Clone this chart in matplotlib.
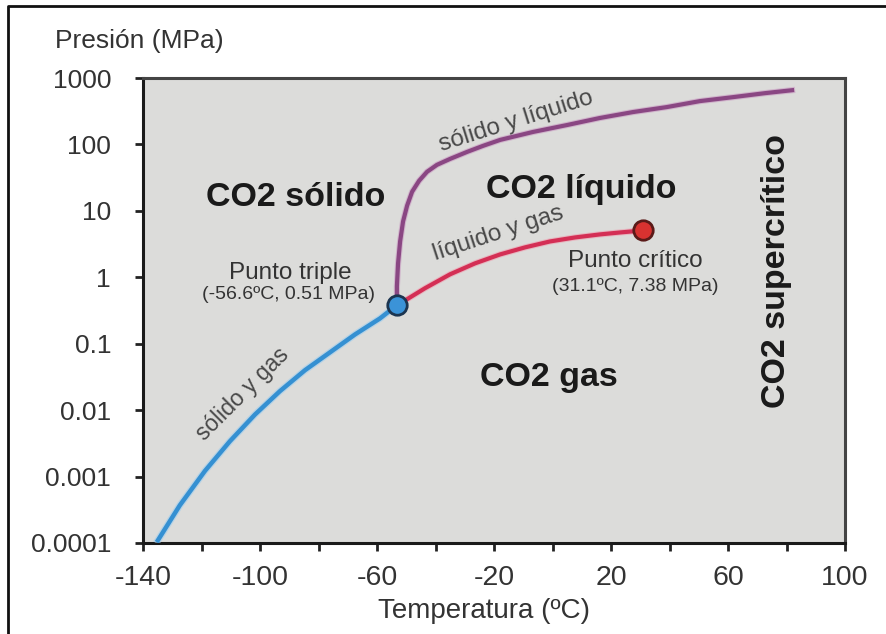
import numpy as np
import matplotlib.pyplot as plt
from matplotlib.lines import Line2D
import matplotlib.patheffects as pe

plt.rcParams['font.family'] = ['Liberation Sans', 'DejaVu Sans']
plt.rcParams['axes.unicode_minus'] = False

# curve points (T in ºC, P in MPa)
sub_T = [-134.9, -127.4, -118.8, -110.3, -101.7, -93.2, -84.6, -76.1, -67.5, -59.0, -53.2]
sub_P = [1.1e-4, 3.7e-4, 1.22e-3, 3.4e-3, 8.6e-3, 1.93e-2, 4.0e-2, 7.4e-2, 1.38e-1, 2.4e-1, 3.8e-1]

vap_T = [-53.2, -49.7, -43.6, -35.0, -26.5, -17.9, -9.4, -0.9, 7.7, 16.2, 23.1, 30.9]
vap_P = [0.38, 0.468, 0.684, 1.11, 1.62, 2.21, 2.82, 3.46, 3.98, 4.42, 4.73, 5.07]

mel_T = [-53.2, -53.2, -52.8, -52.1, -51.1, -49.7, -48.0, -45.6, -42.9, -39.5, -35.0, -29.2,
         -23.8, -17.9, -6.7, 5.0, 16.2, 27.5, 39.1, 50.4, 61.7, 72.6, 81.9]
mel_P = [0.38, 0.73, 1.62, 3.46, 6.9, 12.0, 19.4, 28.4, 38.7, 49.3, 60.6, 77.2,
         95.0, 117, 154, 196, 250, 307, 365, 449, 515, 591, 655]

triple = (-53.2, 0.38)
critical = (30.9, 5.07)

xticks = [-140, -100, -60, -20, 20, 60, 100]
xminor = [-120, -80, -40, 0, 40, 80]
yticks = [1e-4, 1e-3, 1e-2, 1e-1, 1, 10, 100, 1000]
ylabels = ['0.0001', '0.001', '0.01', '0.1', '1', '10', '100', '1000']

fig = plt.figure(figsize=(8.86, 6.34), dpi=100)
ax = fig.add_axes([143 / 886, 1 - 543 / 634, (845 - 143) / 886, (543 - 78) / 634])
ax.set_facecolor('#dcdcda')

ax.plot(sub_T, sub_P, color='#3590d2', lw=3.2,
        path_effects=[pe.Stroke(linewidth=5, foreground='#9fcdee', alpha=0.6), pe.Normal()], zorder=3)
ax.plot(mel_T, mel_P, color='#8a4783', lw=3.0,
        path_effects=[pe.Stroke(linewidth=4.5, foreground='#c99ac2', alpha=0.6), pe.Normal()], zorder=3)
ax.plot(vap_T, vap_P, color='#d42f55', lw=3.0,
        path_effects=[pe.Stroke(linewidth=4.5, foreground='#ee9fb0', alpha=0.6), pe.Normal()], zorder=3)

ax.plot(*triple, 'o', ms=14, mfc='#3b93d8', mec='#1c3550', mew=2, zorder=5)
ax.plot(*critical, 'o', ms=14, mfc='#d83230', mec='#5a1a18', mew=2, zorder=5)

ax.set_yscale('log')
ax.set_xlim(-140, 100)
ax.set_ylim(1e-4, 1000)
ax.set_xticks(xticks)
ax.set_xticks(xminor, minor=True)
ax.set_yticks(yticks)
ax.set_yticklabels(ylabels)
ax.yaxis.set_minor_locator(plt.NullLocator())
ax.tick_params(axis='both', which='both', direction='out', length=6, width=2, color='#222222',
               labelcolor='#333333')
ax.tick_params(axis='y', pad=17, labelsize=19)
ax.tick_params(axis='x', pad=10, labelsize=20.5)

for s in ['left', 'bottom']:
    ax.spines[s].set_linewidth(2.2)
    ax.spines[s].set_color('#1a1a1a')
for s in ['top', 'right']:
    ax.spines[s].set_linewidth(2.2)
    ax.spines[s].set_color('#444444')

fig.text(484 / 886, 1 - 611 / 634, 'Temperatura (ºC)', fontsize=20, color='#333333', ha='center', va='center')
fig.text(55 / 886, 1 - 41 / 634, 'Presión (MPa)', fontsize=19, color='#333333', ha='left', va='center')

region = dict(fontsize=24.5, fontweight='bold', color='#1a1a1a', ha='center', va='center')
ax.text(-87.7, 16, 'CO2 sólido', **region)
ax.text(9.7, 21, 'CO2 líquido', **region)
ax.text(-1.2, 0.031, 'CO2 gas', **region)
ax.text(76.5, 1.23, 'CO2 supercrítico', rotation=90, **region)

curve = dict(fontsize=17.5, color='#484848', ha='center', va='center', rotation_mode='anchor')
ax.text(-12.5, 225, 'sólido y líquido', rotation=17.5, **curve)
ax.text(-18.5, 4.6, 'líquido y gas', rotation=18, **curve)
ax.text(-106.0, 0.0175, 'sólido y gas', rotation=45, **{**curve, 'fontsize': 16.5})

ax.text(-89.7, 1.15, 'Punto triple', fontsize=17.5, color='#333333', ha='center', va='center')
ax.text(-90.4, 0.556, '(-56.6ºC, 0.51 MPa)', fontsize=14, color='#333333', ha='center', va='center')
ax.text(28.2, 1.74, 'Punto crítico', fontsize=17.5, color='#333333', ha='center', va='center')
ax.text(28.2, 0.733, '(31.1ºC, 7.38 MPa)', fontsize=14, color='#333333', ha='center', va='center')

# screenshot frame: left and top edges
fig.lines.append(Line2D([8 / 886, 8 / 886, 1.0], [0.0, 1 - 6 / 634, 1 - 6 / 634],
                        transform=fig.transFigure, lw=2, color='#111111'))

fig.savefig('out.png', dpi=100)
